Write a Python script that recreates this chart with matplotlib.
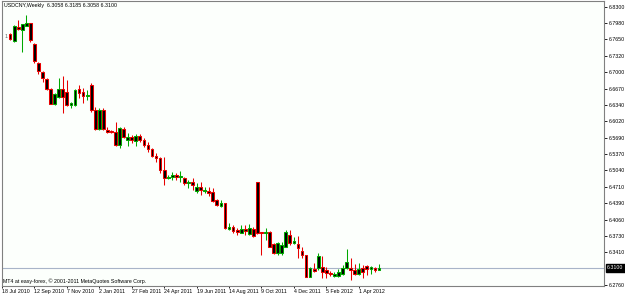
import matplotlib
matplotlib.use("Agg")
import matplotlib.pyplot as plt
import numpy as np

# Weekly USDCNY candles (bar index 0 = week of 1 Aug 2010)
opens = [6.7756, 6.7623, 6.7902, 6.7836, 6.7922, 6.7969, 6.7551, 6.7185, 6.7006, 6.6861,
         6.6662, 6.6363, 6.6497, 6.6662, 6.6608, 6.6343, 6.6343, 6.6656, 6.6608, 6.6523,
         6.6742, 6.6244, 6.5860, 6.6244, 6.5846, 6.5826, 6.5812, 6.5548, 6.5866, 6.5647,
         6.5713, 6.5633, 6.5727, 6.5647, 6.5548, 6.5462, 6.5329, 6.5283, 6.5050, 6.4885,
         6.4917, 6.4951, 6.4905, 6.4885, 6.4797, 6.4817, 6.4638, 6.4718, 6.4626, 6.4638,
         6.4606, 6.4453, 6.4333, 6.4387, 6.3882, 6.3909, 6.3849, 6.3802, 6.3869, 6.3777,
         6.3869, 6.4817, 6.3816, 6.3790, 6.3822, 6.3577, 6.3391, 6.3391, 6.3524, 6.3756,
         6.3603, 6.3577, 6.3444, 6.3358, 6.2926, 6.3070, 6.3094, 6.3126, 6.3054, 6.3006,
         6.2946, 6.2946, 6.2974, 6.3094, 6.3106, 6.3060, 6.2986, 6.3094, 6.3146, 6.3080,
         6.3106, 6.3058]
highs = [6.7776, 6.7936, 6.8035, 6.7965, 6.8134, 6.7975, 6.7571, 6.7205, 6.7026, 6.6875,
         6.6688, 6.6576, 6.6875, 6.6921, 6.6841, 6.6409, 6.6656, 6.6741, 6.6676, 6.6642,
         6.6787, 6.6310, 6.6290, 6.6277, 6.5912, 6.5846, 6.6011, 6.5912, 6.5912, 6.5787,
         6.5746, 6.5766, 6.5766, 6.5681, 6.5613, 6.5482, 6.5382, 6.5315, 6.5315, 6.4951,
         6.5016, 6.4996, 6.5036, 6.4917, 6.4851, 6.4891, 6.4785, 6.4817, 6.4718, 6.4718,
         6.4685, 6.4467, 6.4453, 6.4399, 6.3989, 6.3955, 6.3889, 6.3955, 6.3955, 6.3975,
         6.3922, 6.4817, 6.3822, 6.3889, 6.3836, 6.3591, 6.3624, 6.3624, 6.3856, 6.3856,
         6.3723, 6.3736, 6.3511, 6.3358, 6.3126, 6.3193, 6.3392, 6.3345, 6.3126, 6.3040,
         6.3026, 6.3080, 6.3160, 6.3478, 6.3293, 6.3173, 6.3193, 6.3160, 6.3160, 6.3146,
         6.3126, 6.3185]
lows = [6.7637, 6.7603, 6.7836, 6.7404, 6.7910, 6.7603, 6.7173, 6.6960, 6.6807, 6.6642,
        6.6353, 6.6343, 6.6477, 6.6184, 6.6324, 6.6284, 6.6330, 6.6477, 6.6383, 6.6443,
        6.6210, 6.5846, 6.5846, 6.5846, 6.5780, 6.5786, 6.5528, 6.5482, 6.5681, 6.5533,
        6.5581, 6.5528, 6.5613, 6.5514, 6.5414, 6.5315, 6.5215, 6.4984, 6.4752, 6.4865,
        6.4851, 6.4851, 6.4817, 6.4752, 6.4692, 6.4652, 6.4598, 6.4552, 6.4586, 6.4532,
        6.4419, 6.4333, 6.4307, 6.3869, 6.3856, 6.3790, 6.3756, 6.3790, 6.3756, 6.3756,
        6.3723, 6.3777, 6.3358, 6.3656, 6.3510, 6.3371, 6.3358, 6.3358, 6.3510, 6.3557,
        6.3577, 6.3293, 6.3293, 6.2915, 6.2915, 6.3026, 6.3060, 6.2895, 6.2895, 6.2946,
        6.2926, 6.2926, 6.2960, 6.3086, 6.2861, 6.2960, 6.2960, 6.2895, 6.2960, 6.2974,
        6.3026, 6.3058]
closes = [6.7651, 6.7916, 6.7850, 6.7955, 6.7981, 6.7637, 6.7219, 6.7026, 6.6875, 6.6662,
          6.6363, 6.6556, 6.6656, 6.6503, 6.6343, 6.6383, 6.6642, 6.6576, 6.6529, 6.6533,
          6.6244, 6.5860, 6.6244, 6.5860, 6.5800, 6.5800, 6.5548, 6.5880, 6.5713, 6.5701,
          6.5647, 6.5727, 6.5647, 6.5548, 6.5462, 6.5329, 6.5283, 6.5050, 6.4885, 6.4917,
          6.4951, 6.4917, 6.4931, 6.4785, 6.4817, 6.4752, 6.4718, 6.4652, 6.4652, 6.4598,
          6.4439, 6.4353, 6.4399, 6.3889, 6.3909, 6.3842, 6.3822, 6.3869, 6.3836, 6.3889,
          6.3737, 6.3790, 6.3796, 6.3822, 6.3522, 6.3391, 6.3591, 6.3557, 6.3822, 6.3591,
          6.3643, 6.3491, 6.3358, 6.2926, 6.3106, 6.3050, 6.3339, 6.3026, 6.2994, 6.2974,
          6.2986, 6.3026, 6.3106, 6.3225, 6.3060, 6.2974, 6.3074, 6.3014, 6.3080, 6.3113,
          6.3060, 6.3100]

price_ticks = [6.8300, 6.7980, 6.7650, 6.7320, 6.7000, 6.6670, 6.6340, 6.6020, 6.5690,
               6.5370, 6.5040, 6.4710, 6.4390, 6.4060, 6.3730, 6.3410, 6.2760]
current_price = 6.3100
date_labels = ["18 Jul 2010", "12 Sep 2010", "7 Nov 2010", "2 Jan 2011", "27 Feb 2011",
               "24 Apr 2011", "19 Jun 2011", "14 Aug 2011", "9 Oct 2011", "4 Dec 2011",
               "5 Feb 2012", "1 Apr 2012"]
date_positions = [-2, 6, 14, 22, 30, 38, 46, 54, 62, 70, 78, 86]

title = "USDCNY,Weekly  6.3058 6.3185 6.3058 6.3100"
footer = "MT4 at easy-forex, \u00a9 2001-2011 MetaQuotes Software Corp."

W, H = 625, 295
fig = plt.figure(figsize=(W / 100, H / 100), dpi=100)
fig.patch.set_facecolor("white")
l, r, t, b = 2, 604, 1.3, 285.5
ax = fig.add_axes([l / W, 1 - b / H, (r - l) / W, (b - t) / H])
ax.set_facecolor("#FCFFFC")

FONT = "Liberation Sans"
FS = 3.8
UP, DOWN = "#00A800", "#E80000"

o = np.array(opens); h = np.array(highs); lo = np.array(lows); c = np.array(closes)
x = np.arange(len(o))
up = c >= o
cols = np.where(up, UP, DOWN)

ax.axhline(current_price, color="#A8B4C8", lw=0.8, zorder=1)
ax.vlines(x, lo, h, colors=cols, lw=0.75, zorder=2)
ax.bar(x, np.abs(c - o) + 0.0004, bottom=np.minimum(o, c) - 0.0002, width=0.68,
       color="black", edgecolor=cols, linewidth=0.75, zorder=3)

ax.set_xlim(-1.97, 146.5)
ax.set_ylim(6.2750, 6.8407)

ax.yaxis.tick_right()
ax.set_yticks(price_ticks)
ax.set_yticklabels([f"{v:.4f}" for v in price_ticks], fontsize=FS, family=FONT)
ax.tick_params(axis="y", length=2, width=0.6, pad=1.5, colors="black")
ax.set_xticks(date_positions)
ax.set_xticklabels(date_labels, fontsize=FS, family=FONT, ha="left")
ax.tick_params(axis="x", length=1.5, width=0.6, pad=1.0, colors="black")

for s in ax.spines.values():
    s.set_color("#808080")
    s.set_linewidth(0.8)

ax.text(1.005, current_price, f"{current_price:.4f}", transform=ax.get_yaxis_transform(),
        fontsize=FS, family=FONT, color="white", va="center", ha="left",
        bbox=dict(boxstyle="square,pad=0.25", fc="black", ec="black"))

fig.text(4 / W, 1 - 6 / H, title, fontsize=FS, family=FONT, va="center", ha="left")
fig.text(3 / W, 1 - 281 / H, footer, fontsize=FS, family=FONT, va="center", ha="left")
fig.text(4.5 / W, 1 - 36 / H, "1", fontsize=FS, family=FONT, color="#606060",
         va="center", ha="left")

fig.savefig("out.png", dpi=100, facecolor="white")
